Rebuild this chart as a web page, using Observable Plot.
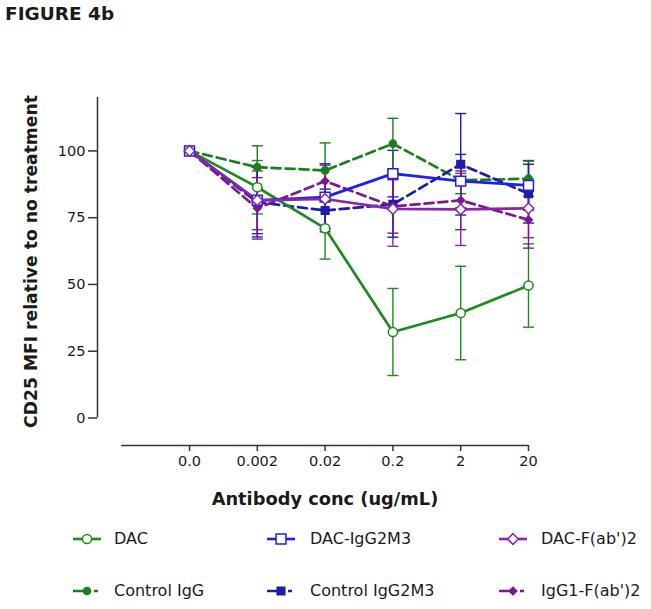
<!DOCTYPE html>
<html>
<head>
<meta charset="utf-8">
<script src="https://cdn.jsdelivr.net/npm/d3@7"></script>
<script src="https://cdn.jsdelivr.net/npm/@observablehq/plot@0.6"></script>
<style>
  html, body { margin: 0; padding: 0; background: #fff; }
  #page { position: relative; width: 651px; height: 609px; overflow: hidden; font-family: "DejaVu Sans", sans-serif; color: #1a1a1a; }
  #title { position: absolute; left: 5px; top: 4px; font-weight: bold; font-size: 18.5px; line-height: 20px; }
  .lg-sym { position: absolute; width: 28px; height: 14px; }
  .lg-txt { position: absolute; font-size: 16px; line-height: 20px; white-space: nowrap; }
</style>
</head>
<body>
<div id="page">
  <div id="chart"></div>
  <div id="title">FIGURE 4b</div>
</div>
<script>
// ---- data ----
const concLabels = ["0.0", "0.002", "0.02", "0.2", "2", "20"];
const yTicks = [0, 25, 50, 75, 100];
const seriesNames = ["DAC", "DAC-IgG2M3", "DAC-F(ab')2", "Control IgG", "Control IgG2M3", "IgG1-F(ab')2"];

const dacMean   = [100, 86.4, 71.0, 32.2, 39.3, 49.6];
const dacErr    = [1, 10.0, 11.5, 16.3, 17.5, 15.6];
const dacG2Mean = [100, 81.5, 82.7, 91.5, 88.7, 87.1];
const dacG2Err  = [1, 12.5, 12.0, 8.7, 10.0, 9.3];
const dacFMean  = [100, 81.5, 82.0, 78.3, 78.1, 78.5];
const dacFErr   = [1, 11.0, 11.0, 14.0, 13.5, 11.0];
const ctlGMean  = [100, 93.9, 92.7, 102.7, 89.0, 89.6];
const ctlGErr   = [1, 8.0, 10.3, 9.5, 5.0, 6.6];
const ctlG2Mean = [100, 80.8, 77.7, 80.0, 95.0, 84.0];
const ctlG2Err  = [1, 13.0, 8.0, 12.3, 19.0, 11.0];
const g1FMean   = [100, 78.5, 88.7, 79.2, 81.5, 74.2];
const g1FErr    = [1, 11.5, 6.5, 10.0, 11.0, 10.6];

// ---- styles ----
const colors = ["#1f8b1f", "#1f1ff2", "#8a26a8", "#1b7f1b", "#1d1da6", "#7a1a8e"];
const symbols = ["circle", "square", "diamond2", "circle", "square", "diamond2"];
const filled = [false, false, false, true, true, true];
const radii = [4.6, 5.6, 4.8, 3.6, 4.3, 3.4];
const dashes = [null, null, null, "9,5", "9,5", "9,5"];

const means = [dacMean, dacG2Mean, dacFMean, ctlGMean, ctlG2Mean, g1FMean];
const errs = [dacErr, dacG2Err, dacFErr, ctlGErr, ctlG2Err, g1FErr];

const xMin = -1.357, xMax = 5, xLineStart = -1;
const yMin = -10.3, yMax = 120;

const capSymbol = {
  draw(ctx, size) {
    const w = Math.sqrt(size / Math.PI);
    ctx.moveTo(-w, 0);
    ctx.lineTo(w, 0);
  }
};

const errMarks = [], lineMarks = [], dotMarks = [];
seriesNames.forEach((name, s) => {
  const rows = means[s].map((m, i) => ({series: name, i, m, lo: m - errs[s][i], hi: m + errs[s][i]}));
  errMarks.push(Plot.ruleX(rows, {x: "i", y1: "lo", y2: "hi", stroke: colors[s], strokeWidth: 1.4}));
  errMarks.push(Plot.dot(rows, {x: "i", y: "lo", symbol: capSymbol, r: 5.5, stroke: colors[s], fill: "none", strokeWidth: 1.4}));
  errMarks.push(Plot.dot(rows, {x: "i", y: "hi", symbol: capSymbol, r: 5.5, stroke: colors[s], fill: "none", strokeWidth: 1.4}));
  lineMarks.push(Plot.line(rows, {x: "i", y: "m", stroke: colors[s], strokeWidth: 2.7, strokeDasharray: dashes[s]}));
  dotMarks.push(Plot.dot(rows, {x: "i", y: "m", symbol: symbols[s], r: radii[s],
    stroke: colors[s], strokeWidth: 1.5, fill: filled[s] ? colors[s] : "white"}));
});

// order: dashed lines below solid ones
const lineOrder = [3, 4, 5, 0, 1, 2];

const chart = Plot.plot({
  width: 651,
  height: 515,
  marginLeft: 97,
  marginRight: 123,
  marginTop: 97,
  marginBottom: 70,
  style: {fontFamily: "DejaVu Sans, sans-serif", fontSize: "14.5px", color: "#1a1a1a", background: "transparent"},
  x: {domain: [xMin, xMax]},
  y: {domain: [yMin, yMax]},
  marks: [
    Plot.ruleX([xMin], {y1: 0, y2: yMax, stroke: "#333", strokeWidth: 1.5}),
    Plot.ruleY([yMin], {x1: xLineStart, x2: xMax, stroke: "#333", strokeWidth: 1.5}),
    Plot.axisX({ticks: d3.range(concLabels.length), tickFormat: i => concLabels[i], tickSize: 6, tickPadding: 4, label: null, stroke: "#333", strokeWidth: 1.5}),
    Plot.axisY({ticks: yTicks, tickSize: 9, tickPadding: 3, label: null, stroke: "#333", strokeWidth: 1.5}),
    Plot.text(["Antibody conc (ug/mL)"], {frameAnchor: "bottom", dx: 12, dy: 54, lineAnchor: "middle", textAnchor: "middle", fontWeight: "bold", fontSize: 17.8}),
    Plot.text(["CD25 MFI relative to no treatment"], {frameAnchor: "left", rotate: -90, dx: -66, dy: -10, lineAnchor: "middle", textAnchor: "middle", fontWeight: "bold", fontSize: 17.2}),
    ...errMarks,
    ...lineOrder.map(k => lineMarks[k]),
    ...lineOrder.map(k => dotMarks[k])
  ]
});
document.getElementById("chart").appendChild(chart);

// ---- legend (HTML) ----
const legendCols = [{sym: 86.5, txt: 114}, {sym: 281, txt: 310}, {sym: 513, txt: 541}];
const legendRows = [539, 591];
const page = document.getElementById("page");
seriesNames.forEach((name, s) => {
  const col = legendCols[s % 3], cy = legendRows[Math.floor(s / 3)];
  const svg = d3.create("svg").attr("class", "lg-sym").attr("width", 28).attr("height", 14)
    .style("left", (col.sym - 14) + "px").style("top", (cy - 7) + "px");
  if (dashes[s]) {
    svg.append("path").attr("d", "M0,7H17M21,7H25").attr("stroke", colors[s]).attr("stroke-width", 2.6).attr("fill", "none");
  } else {
    svg.append("path").attr("d", "M0,7H28").attr("stroke", colors[s]).attr("stroke-width", 2.6).attr("fill", "none");
  }
  const symType = {circle: d3.symbolCircle, square: d3.symbolSquare, diamond2: d3.symbolDiamond2}[symbols[s]];
  svg.append("path").attr("transform", "translate(14,7)")
    .attr("d", d3.symbol(symType, Math.PI * radii[s] * radii[s])())
    .attr("stroke", colors[s]).attr("stroke-width", 1.5)
    .attr("fill", filled[s] ? colors[s] : "white");
  page.appendChild(svg.node());
  const t = document.createElement("div");
  t.className = "lg-txt";
  t.textContent = name;
  t.style.left = col.txt + "px";
  t.style.top = (cy - 10) + "px";
  page.appendChild(t);
});
</script>
</body>
</html>
